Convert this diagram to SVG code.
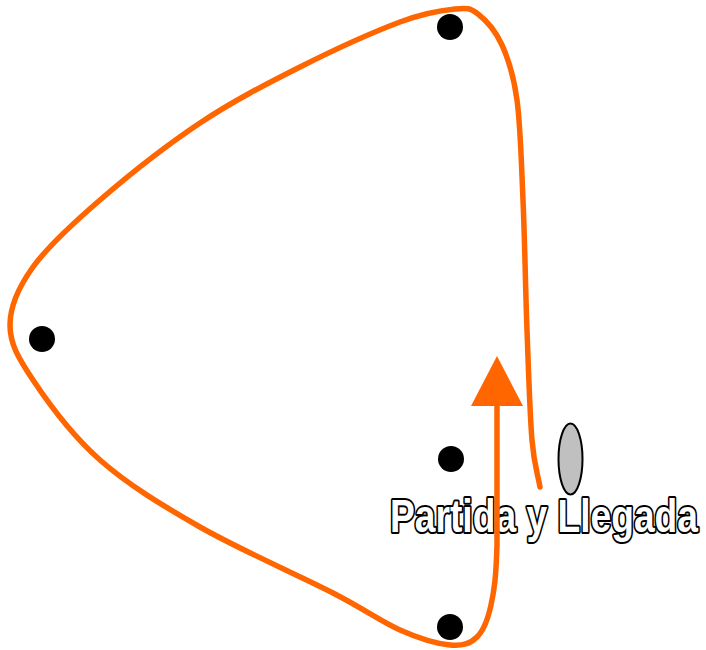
<svg xmlns="http://www.w3.org/2000/svg" width="706" height="650" viewBox="0 0 706 650">
<style>
.dot{fill:#000000}
.route{fill:none;stroke:#ff6600;stroke-width:5.5;stroke-linecap:round;stroke-linejoin:round}
.lbl{font-family:"Liberation Sans",Arial,sans-serif;font-weight:bold;font-size:47px;fill:#ffffff;stroke:#000000;stroke-width:4;paint-order:stroke;stroke-linejoin:round}
</style>
<defs>
<marker id="ah" markerUnits="userSpaceOnUse" markerWidth="52" markerHeight="54" viewBox="0 0 50 54" refX="1" refY="27" orient="auto">
<path d="M0,1 L50,27 L0,53 Z" fill="#ff6600"/>
</marker>
</defs>
<rect width="706" height="650" fill="#ffffff"/>
<g id="nodes">
<g id="n-top"><circle class="dot" cx="450" cy="27" r="13"/></g>
<g id="n-left"><circle class="dot" cx="42" cy="339" r="13"/></g>
<g id="n-mid"><circle class="dot" cx="451" cy="459" r="13"/></g>
<g id="n-bottom"><circle class="dot" cx="450" cy="627" r="13"/></g>
<g id="n-start">
<ellipse cx="570.5" cy="459" rx="12" ry="35.5" fill="#c0c0c0" stroke="#000000" stroke-width="2"/>
<text class="lbl" x="390" y="532" textLength="308" lengthAdjust="spacingAndGlyphs">Partida y Llegada</text>
</g>
</g>
<g id="connectors">
<path class="route" marker-end="url(#ah)" d="M540,487 C537.3,471.3 534.2,466.2 532,440 C529.8,413.8 528.5,370 527,330 C525.5,290 524.7,238.3 523,200 C521.3,161.7 520.5,125.8 517,100 C513.5,74.2 508.5,59.3 502,45 C495.5,30.7 485.8,20 478,14 C470.2,8 468,7.7 455,9 C442,10.3 425.8,12.3 400,22 C374.2,31.7 333.3,50.2 300,67 C266.7,83.8 233.3,100.8 200,123 C166.7,145.2 127.8,176 100,200 C72.2,224 48,246.2 33,267 C18,287.8 10,306.2 10,325 C10,343.8 18,357.5 33,380 C48,402.5 72.2,435.5 100,460 C127.8,484.5 161.2,504.8 200,527 C238.8,549.2 299.7,575.8 333,593 C366.3,610.2 380.5,621.3 400,630 C419.5,638.7 437.2,643.8 450,645 C462.8,646.2 470.2,643.7 477,637 C483.8,630.3 487.7,620.3 491,605 C494.3,589.7 496,578.3 497,545 L497,405"/>
</g>
</svg>
